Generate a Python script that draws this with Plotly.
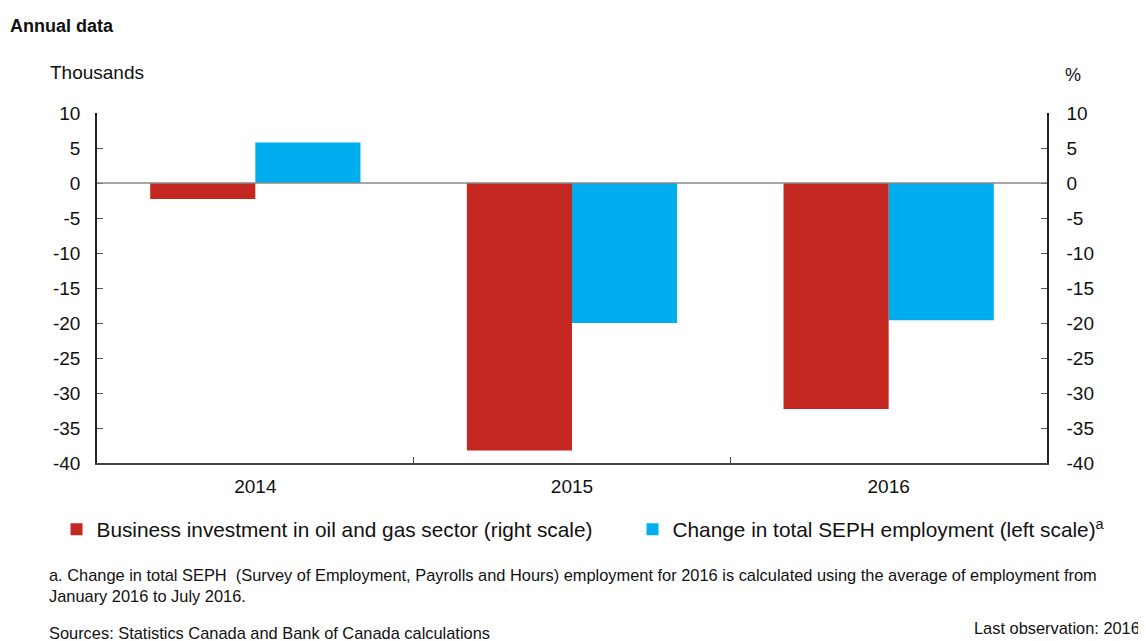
import plotly.graph_objects as go

years = ["2014", "2015", "2016"]
oil_gas_investment = [-2.3, -38.2, -32.3]     # %, right scale
seph_employment = [5.8, -20.0, -19.6]         # thousands, left scale
y_ticks = [10, 5, 0, -5, -10, -15, -20, -25, -30, -35, -40]
y_tick_text = [str(v) for v in y_ticks]

RED = "#C4271F"
BLUE = "#00AEEF"
FONT = "Liberation Sans, Arial, sans-serif"
TXT = "#111"

fig = go.Figure()
fig.add_trace(go.Bar(
    x=years, y=oil_gas_investment, name="Business investment in oil and gas sector (right scale)",
    marker=dict(color=RED, line=dict(width=0)), yaxis="y2", offsetgroup="1", legend="legend",
))
fig.add_trace(go.Bar(
    x=years, y=seph_employment, name="Change in total SEPH employment (left scale)<sup>a</sup>",
    marker=dict(color=BLUE, line=dict(width=0)), yaxis="y", offsetgroup="2", legend="legend2",
))

def yaxis_style(side, standoff):
    return dict(
        side=side, range=[-40, 10], tickvals=y_ticks, ticktext=y_tick_text,
        ticks="inside", ticklen=6, tickcolor="#555",
        showline=True, linecolor="#222", linewidth=1.5, showgrid=False, zeroline=False,
        tickfont=dict(family=FONT, size=19, color=TXT), ticklabelstandoff=standoff,
    )

legend_common = dict(
    orientation="h", yanchor="middle", y=-0.191, xanchor="left",
    font=dict(family=FONT, size=20.8, color=TXT), itemwidth=30, bgcolor="rgba(0,0,0,0)",
)

fig.update_layout(
    width=1138, height=633,
    margin=dict(l=89, r=99, t=105, b=178),
    paper_bgcolor="white", plot_bgcolor="white",
    barmode="group", bargap=0.336, bargroupgap=0,
    xaxis=dict(
        showline=True, linecolor="#444", linewidth=1.5, ticks="inside", tickson="boundaries",
        ticklen=6, tickcolor="#444", showgrid=False,
        tickfont=dict(family=FONT, size=19, color=TXT), ticklabelstandoff=5,
    ),
    yaxis=yaxis_style("left", 11),
    yaxis2=dict(overlaying="y", **yaxis_style("right", 14)),
    showlegend=True,
    legend=dict(x=-0.0426, **legend_common),
    legend2=dict(x=0.5637, **legend_common),
    shapes=[dict(type="line", xref="paper", yref="y", x0=0, x1=1, y0=0, y1=0,
                 line=dict(color="#888", width=1.5))],
    annotations=[
        dict(text="<b>Annual data</b>", xref="paper", yref="paper", x=-0.0937, y=1.249,
             xanchor="left", yanchor="middle", showarrow=False,
             font=dict(family=FONT, size=18, color=TXT)),
        dict(text="Thousands", xref="paper", yref="paper", x=-0.0516, y=1.117,
             xanchor="left", yanchor="middle", showarrow=False,
             font=dict(family=FONT, size=19, color=TXT)),
        dict(text="%", xref="paper", yref="paper", x=1.0168, y=1.109,
             xanchor="left", yanchor="middle", showarrow=False,
             font=dict(family=FONT, size=18, color=TXT)),
        dict(text="a. Change in total SEPH  (Survey of Employment, Payrolls and Hours) employment for 2016 is calculated using the average of employment from<br>January 2016 to July 2016.",
             xref="paper", yref="paper", x=-0.0526, y=-0.35, xanchor="left", yanchor="middle",
             align="left", showarrow=False,
             font=dict(family=FONT, size=16.4, color=TXT)),
        dict(text="Sources: Statistics Canada and Bank of Canada calculations",
             xref="paper", yref="paper", x=-0.0526, y=-0.486, xanchor="left", yanchor="middle",
             align="left", showarrow=False,
             font=dict(family=FONT, size=16.4, color=TXT)),
        dict(text="Last observation: 2016",
             xref="paper", yref="paper", x=1.1, y=-0.471, xanchor="right", yanchor="middle",
             align="right", showarrow=False,
             font=dict(family=FONT, size=16.4, color=TXT)),
    ],
)

fig.write_html("out.html")
